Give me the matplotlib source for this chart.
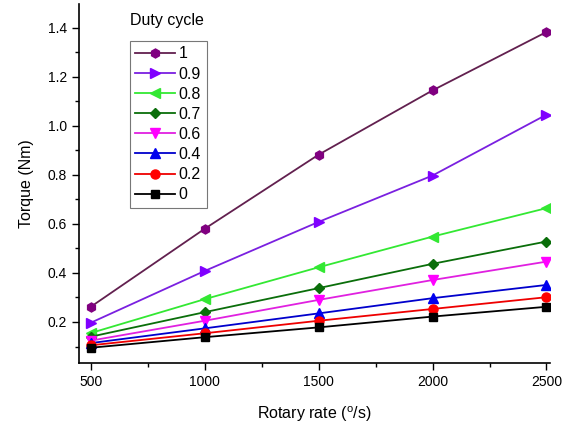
import matplotlib
matplotlib.use('Agg')
import matplotlib.pyplot as plt
from matplotlib.ticker import MultipleLocator

plt.rcParams['font.family'] = ['Liberation Sans', 'DejaVu Sans']

rate = [500, 1000, 1500, 2000, 2500]
duty_labels = ['1', '0.9', '0.8', '0.7', '0.6', '0.4', '0.2', '0']
torque_1 = [0.262, 0.580, 0.882, 1.144, 1.382]
torque_09 = [0.197, 0.408, 0.608, 0.797, 1.045]
torque_08 = [0.155, 0.293, 0.423, 0.548, 0.664]
torque_07 = [0.140, 0.240, 0.338, 0.437, 0.528]
torque_06 = [0.124, 0.205, 0.290, 0.371, 0.446]
torque_04 = [0.114, 0.174, 0.235, 0.297, 0.351]
torque_02 = [0.105, 0.154, 0.205, 0.253, 0.301]
torque_0 = [0.095, 0.138, 0.178, 0.222, 0.262]

series = [torque_1, torque_09, torque_08, torque_07, torque_06, torque_04, torque_02, torque_0]
line_colors = ['#62204f', '#7a20e0', '#33e833', '#0a6e0a', '#e020e0', '#0000cc', '#ee0000', '#000000']
marker_colors = ['#800080', '#8000ff', '#33e833', '#0a6e0a', '#ff00ff', '#0000ee', '#ff0000', '#000000']
markers = ['h', '>', '<', 'D', 'v', '^', 'o', 's']
msizes = [6.5, 6.5, 6.5, 5.5, 6.5, 6.5, 6.5, 5.5]

fig = plt.figure(figsize=(5.64, 4.26), dpi=100)
ax = fig.add_axes([0.140, 0.148, 0.835, 0.842])

for y, lab, lc, mc, m, ms in zip(series, duty_labels, line_colors, marker_colors, markers, msizes):
    ax.plot(rate, y, color=lc, marker=m, markersize=ms, markerfacecolor=mc,
            markeredgecolor=mc, linewidth=1.3, label=lab)

ax.set_xlim(448, 2515)
ax.set_ylim(0.033, 1.495)
ax.xaxis.set_major_locator(MultipleLocator(500))
ax.xaxis.set_minor_locator(MultipleLocator(250))
ax.yaxis.set_minor_locator(MultipleLocator(0.1))
ax.set_yticks([0.2, 0.4, 0.6, 0.8, 1.0, 1.2, 1.4])
ax.set_yticklabels(['0.2', '0.4', '0.6', '0.8', '1.0', '1.2', '1.4'])

for s in ['top', 'right']:
    ax.spines[s].set_visible(False)
ax.spines['left'].set_linewidth(1.2)
ax.spines['bottom'].set_linewidth(1.2)
ax.tick_params(which='major', direction='out', length=5, width=1, labelsize=10, colors='black')
ax.tick_params(which='minor', direction='out', length=3, width=1)

ax.set_xlabel('Rotary rate ($^{\\mathregular{o}}$/s)', fontsize=11.5, labelpad=11)
ax.set_ylabel('Torque (Nm)', fontsize=11.5, labelpad=10)

leg = ax.legend(loc='upper left', bbox_to_anchor=(0.108, 0.898), fontsize=11.5,
                frameon=True, fancybox=False, edgecolor='#555555', handlelength=2.5,
                handletextpad=0.2, labelspacing=0.32, borderpad=0.35, borderaxespad=0)
leg.get_frame().set_linewidth(0.8)
ax.text(0.108, 0.955, 'Duty cycle', transform=ax.transAxes, fontsize=11.5, ha='left', va='center')

fig.savefig('out.png', dpi=100)
